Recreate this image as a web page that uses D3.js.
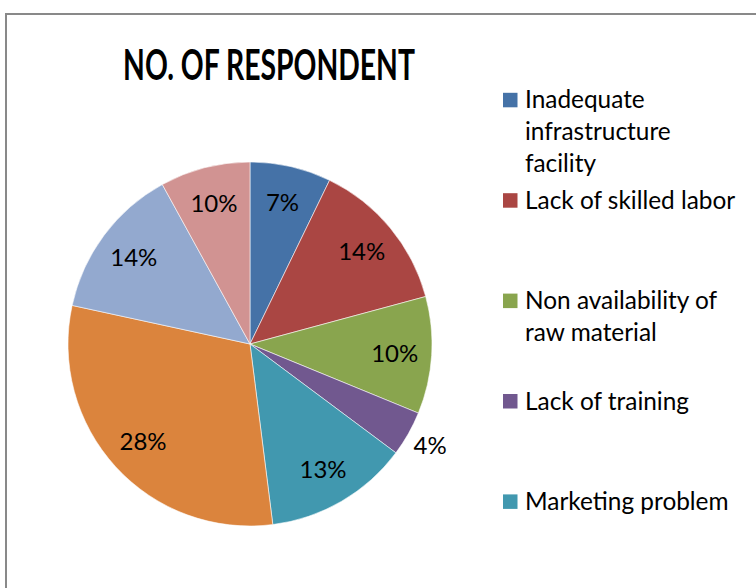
<!DOCTYPE html>
<html>
<head>
<meta charset="utf-8">
<script src="https://cdn.jsdelivr.net/npm/d3@7"></script>
<style>
  html, body { margin: 0; padding: 0; background: #fff; overflow: hidden; }
  svg { display: block; }
</style>
</head>
<body>
<svg id="chart" width="756" height="588"></svg>
<script>
// ---- data ----
const title = "NO. OF RESPONDENT";
// slice shares as drawn (clockwise from 12 o'clock)
const sliceValues = [7.2, 13.6, 10.4, 4.0, 12.8, 30.4, 13.6, 8.0];
// percentage labels as printed on the slices
const sliceLabels = ["7%", "14%", "10%", "4%", "13%", "28%", "14%", "10%"];
// legend entries visible in the picture (the rest is cut off)
const categories = [
  "Inadequate infrastructure facility",
  "Lack of skilled labor",
  "Non availability of raw material",
  "Lack of training",
  "Marketing problem"
];
// how the legend wraps each entry, as in the picture
const legendLines = [
  ["Inadequate", "infrastructure", "facility"],
  ["Lack of skilled labor"],
  ["Non availability of", "raw material"],
  ["Lack of training"],
  ["Marketing problem"]
];
const colors = ["#4572A7", "#AA4643", "#89A54E", "#71588F", "#4198AF", "#DB843D", "#93A9CF", "#D19392"];

// ---- layout ----
const W = 756, H = 588;
const cx = 250, cy = 344, R = 182;
const FONT = "Lato, 'Open Sans', 'Liberation Sans', sans-serif";
const svg = d3.select("#chart");

// outer frame (extends beyond the right and bottom edges)
svg.append("rect")
  .attr("x", 6).attr("y", 14)
  .attr("width", W + 40).attr("height", H + 40)
  .attr("fill", "#fff")
  .attr("stroke", "#898989").attr("stroke-width", 2);

// title (condensed bold)
const titleText = svg.append("text")
  .attr("text-anchor", "middle")
  .attr("font-family", FONT)
  .attr("font-weight", "bold")
  .attr("font-size", 42)
  .attr("fill", "#000")
  .text(title);
const titleW = titleText.node().getComputedTextLength();
titleText.attr("transform", `translate(269,80) scale(${292 / titleW},1)`);

// pie
const pie = d3.pie().sort(null).value(d => d);
const arcs = pie(sliceValues);
const arc = d3.arc().innerRadius(0).outerRadius(R);
const g = svg.append("g").attr("transform", `translate(${cx},${cy})`);

g.selectAll("path.slice")
  .data(arcs)
  .join("path")
  .attr("class", "slice")
  .attr("d", arc)
  .attr("fill", (d, i) => colors[i])
  .attr("stroke", "#ffffff")
  .attr("stroke-opacity", 0.7)
  .attr("stroke-width", 0.8);

const inLabelArc = d3.arc().innerRadius(145).outerRadius(145);
const outLabelArc = d3.arc().innerRadius(207).outerRadius(207);
g.selectAll("text.lbl")
  .data(arcs)
  .join("text")
  .attr("class", "lbl")
  .attr("transform", d => {
    const c = (d.value < 5 ? outLabelArc : inLabelArc).centroid(d);
    return `translate(${c[0]},${c[1] + 8.5})`;
  })
  .attr("text-anchor", "middle")
  .attr("font-family", FONT)
  .attr("font-size", 24)
  .attr("fill", "#000")
  .text((d, i) => sliceLabels[i]);

// legend
const legendX = 503, legendTextX = 525, firstBaseline = 108.3, itemStep = 100.4, lineStep = 31.7;
const legend = svg.append("g");
categories.forEach((name, i) => {
  const y0 = firstBaseline + i * itemStep;
  legend.append("rect")
    .attr("x", legendX).attr("y", y0 - 15.5)
    .attr("width", 14.5).attr("height", 14.5)
    .attr("fill", colors[i]);
  const t = legend.append("text")
    .attr("font-family", FONT)
    .attr("font-size", 24.4)
    .attr("fill", "#000");
  t.append("title").text(name);
  legendLines[i].forEach((ln, k) => {
    t.append("tspan").attr("x", legendTextX).attr("y", y0 + k * lineStep).text(ln);
  });
});
</script>
</body>
</html>
